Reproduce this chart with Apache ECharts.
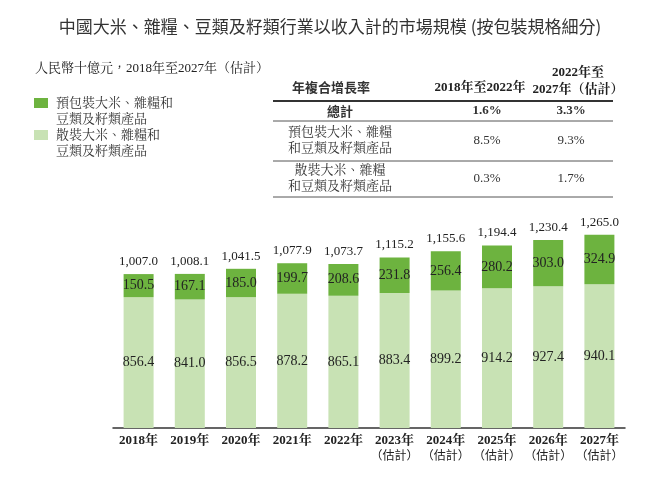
<!DOCTYPE html>
<html>
<head>
<meta charset="utf-8">
<script src="https://cdn.jsdelivr.net/npm/echarts@6/dist/echarts.min.js"></script>
<style>html,body{margin:0;padding:0;background:#fff;}#c{width:660px;height:479px;}</style>
</head>
<body>
<div id="c"></div>
<script>
var years = ['2018年','2019年','2020年','2021年','2022年','2023年','2024年','2025年','2026年','2027年'];
var estimated = [false,false,false,false,false,true,true,true,true,true];
var packaged = [150.5,167.1,185.0,199.7,208.6,231.8,256.4,280.2,303.0,324.9];
var bulk = [856.4,841.0,856.5,878.2,865.1,883.4,899.2,914.2,927.4,940.1];
var totals = [1007.0,1008.1,1041.5,1077.9,1073.7,1115.2,1155.6,1194.4,1230.4,1265.0];
var seriesNames = ['預包裝大米、雜糧和\n豆類及籽類產品','散裝大米、雜糧和\n豆類及籽類產品'];
var cagrHeader = ['年複合增長率','2018年至2022年','2022年至\n2027年（估計）'];
var cagrRows = ['總計','預包裝大米、雜糧\n和豆類及籽類產品','散裝大米、雜糧\n和豆類及籽類產品'];
var cagr1822 = ['1.6%','8.5%','0.3%'];
var cagr2227 = ['3.3%','9.3%','1.7%'];

var DARK = '#6db33f', LIGHT = '#c8e2b4';
var SERIF = '"Liberation Serif","Noto Serif CJK TC","Noto Sans CJK TC",serif';
var SANS = '"Noto Sans CJK TC","Noto Sans",sans-serif';

function fmt(v){
  var s = v.toFixed(1), p = s.split('.');
  p[0] = p[0].replace(/\B(?=(\d{3})+(?!\d))/g, ',');
  return p.join('.');
}

var chart = echarts.init(document.getElementById('c'));

var graphics = [];
// title
graphics.push({type:'text', left:'center', top:18, style:{text:'中國大米、雜糧、豆類及籽類行業以收入計的市場規模 (按包裝規格細分)', font:'17px '+SANS, fill:'#333'}});
// unit
graphics.push({type:'text', left:35, top:62, style:{text:'人民幣十億元，2018年至2027年（估計）', font:'13px '+SERIF, fill:'#222'}});
// legend
var legColors = [DARK, LIGHT];
var legY = [96, 128];
for (var i=0;i<2;i++){
  graphics.push({type:'rect', shape:{x:34, y:legY[i]+2, width:14, height:10}, style:{fill:legColors[i]}});
  graphics.push({type:'text', x:56, y:legY[i], style:{text:seriesNames[i], font:'13px '+SERIF, fill:'#333', lineHeight:16}});
}
// table
var tx0 = 273, tx1 = 613;
var colX = [340, 487, 571];
graphics.push({type:'text', x:331, y:81, style:{text:cagrHeader[0], font:'bold 13px '+SANS, fill:'#333', align:'center'}});
graphics.push({type:'text', x:480, y:81, style:{text:cagrHeader[1], font:'bold 13px '+SERIF, fill:'#222', align:'center'}});
graphics.push({type:'text', x:578, y:64, style:{text:cagrHeader[2], font:'bold 13px '+SERIF, fill:'#222', align:'center', lineHeight:17}});
graphics.push({type:'line', shape:{x1:tx0, y1:101, x2:tx1, y2:101}, style:{stroke:'#333', lineWidth:2}});
graphics.push({type:'line', shape:{x1:tx0, y1:121, x2:tx1, y2:121}, style:{stroke:'#555', lineWidth:1}});
graphics.push({type:'line', shape:{x1:tx0, y1:161, x2:tx1, y2:161}, style:{stroke:'#555', lineWidth:1}});
graphics.push({type:'line', shape:{x1:tx0, y1:197, x2:tx1, y2:197}, style:{stroke:'#555', lineWidth:1}});
var rowY = [111, 141, 179];
for (var r=0;r<3;r++){
  var bold = r===0 ? 'bold ' : '';
  graphics.push({type:'text', x:colX[0], y:rowY[r], style:{text:cagrRows[r], font:bold+'13px '+(r===0?SANS:SERIF), fill:'#333', align:'center', verticalAlign:'middle', lineHeight:16}});
  graphics.push({type:'text', x:colX[1], y:rowY[r], style:{text:cagr1822[r], font:bold+'13px '+SERIF, fill:'#333', align:'center', verticalAlign:'middle'}});
  graphics.push({type:'text', x:colX[2], y:rowY[r], style:{text:cagr2227[r], font:bold+'13px '+SERIF, fill:'#333', align:'center', verticalAlign:'middle'}});
}

var labelStyle = {show:true, position:'inside', fontFamily:SERIF, fontSize:14, color:'#222', formatter:function(p){return fmt(p.value);}};

chart.setOption({
  animation:false,
  grid:{left:113, right:35, top:214, bottom:51},
  xAxis:{type:'category', data:years,
    axisLine:{lineStyle:{color:'#333', width:1.5}}, axisTick:{show:false},
    axisLabel:{interval:0, margin:5, lineHeight:15,
      formatter:function(v, idx){ return estimated[idx] ? '{y|'+v+'}\n{e|（估計）}' : '{y|'+v+'}'; },
      rich:{y:{fontFamily:SERIF, fontWeight:'bold', fontSize:13, color:'#222', lineHeight:15}, e:{fontFamily:SANS, fontSize:12, color:'#222', lineHeight:15}}}},
  yAxis:{type:'value', min:0, max:1400, show:false, splitLine:{show:false}},
  series:[
    {name:seriesNames[1], type:'bar', stack:'a', data:bulk, barWidth:30, itemStyle:{color:LIGHT}, label:labelStyle},
    {name:seriesNames[0], type:'bar', stack:'a', data:packaged, barWidth:30, itemStyle:{color:DARK}, label:labelStyle},
    {name:'total', type:'bar', stack:'a', data:totals.map(function(){return 0;}), barWidth:30,
      label:{show:true, position:'top', distance:6, fontFamily:SERIF, fontSize:13, color:'#222',
        formatter:function(p){return fmt(totals[p.dataIndex]);}}}
  ],
  graphic:graphics
});
</script>
</body>
</html>
